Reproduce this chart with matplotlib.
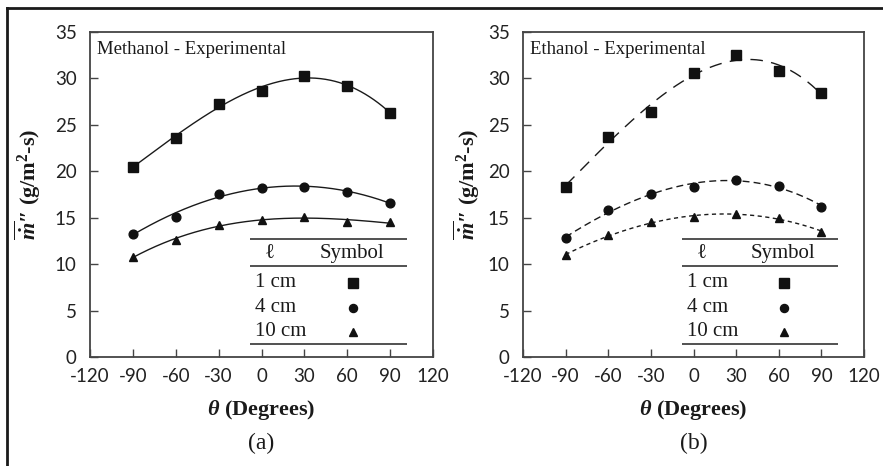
import numpy as np
import matplotlib
matplotlib.use("Agg")
import matplotlib.pyplot as plt
from matplotlib.lines import Line2D

plt.rcParams['mathtext.fontset'] = 'custom'
plt.rcParams['mathtext.rm'] = 'Liberation Serif:bold'
plt.rcParams['mathtext.it'] = 'Liberation Serif:italic'
plt.rcParams['mathtext.bf'] = 'Liberation Serif:bold:italic'
plt.rcParams['mathtext.sf'] = 'Liberation Serif:bold'

theta = [-90, -60, -30, 0, 30, 60, 90]
xticks = [-120, -90, -60, -30, 0, 30, 60, 90, 120]
yticks = [0, 5, 10, 15, 20, 25, 30, 35]

meth_1cm = [20.5, 23.6, 27.3, 28.7, 30.25, 29.2, 26.3]
meth_4cm = [13.3, 15.1, 17.6, 18.2, 18.3, 17.8, 16.6]
meth_10cm = [10.8, 12.55, 14.2, 14.8, 15.1, 14.55, 14.5]

eth_1cm = [18.35, 23.65, 26.35, 30.6, 32.55, 30.85, 28.45]
eth_4cm = [12.8, 15.8, 17.55, 18.35, 19.05, 18.45, 16.2]
eth_10cm = [11.0, 13.1, 14.5, 15.05, 15.35, 15.0, 13.5]

legend_labels = ['1 cm', '4 cm', '10 cm']
panel_titles = ['Methanol - Experimental', 'Ethanol - Experimental']
panel_tags = ['(a)', '(b)']

SERIF = 'Liberation Serif'
SANS = 'Lato'
INK = '#1a1a1a'

fig = plt.figure(figsize=(8.83, 4.66), dpi=100)
fig.patch.set_facecolor('white')

# outer frame (cut off at right and bottom)
fig.add_artist(Line2D([6.5/883, 1.0], [1 - 7.5/466, 1 - 7.5/466], transform=fig.transFigure, color=INK, lw=2.0))
fig.add_artist(Line2D([6.5/883, 6.5/883], [0, 1 - 7.5/466], transform=fig.transFigure, color=INK, lw=2.0))

markers = ['s', 'o', '^']
msizes = [7.0, 6.3, 6.0]

positions = [[90/883, 1 - 357/466, 343/883, 325/466],
             [523/883, 1 - 357/466, 341/883, 325/466]]
ylabel_x = [-0.137, -0.12]

datasets = [[meth_1cm, meth_4cm, meth_10cm], [eth_1cm, eth_4cm, eth_10cm]]
styles = [[(0, ()), (0, ()), (0, ())],
          [(0, (9, 6)), (0, (5, 3)), (0, (3, 2.5))]]
degs = [[3, 3, 3], [3, 3, 3]]

for k in range(2):
    ax = fig.add_axes(positions[k])
    xs = np.linspace(-90, 90, 300)
    for i, ys in enumerate(datasets[k]):
        coef = np.polyfit(theta, ys, degs[k][i])
        ax.plot(xs, np.polyval(coef, xs), color=INK, lw=1.0, linestyle=styles[k][i])
        ax.plot(theta, ys, linestyle='none', marker=markers[i], ms=msizes[i], color='#111111')
    ax.set_xlim(-120, 120)
    ax.set_ylim(0, 35)
    ax.set_xticks(xticks)
    ax.set_yticks(yticks)
    ax.set_xticklabels([str(v) for v in xticks], fontfamily=SANS, fontsize=13.5, color='#222222')
    ax.set_yticklabels([str(v) for v in yticks], fontfamily=SANS, fontsize=13.5, color='#222222')
    ax.tick_params(direction='in', length=6, width=1.0, color='#444444')
    ax.tick_params(axis='y', pad=9.5)
    ax.tick_params(axis='x', pad=8)
    for s in ax.spines.values():
        s.set_color('#444444')
        s.set_linewidth(1.3)
    ax.text(0.02, 0.945, panel_titles[k], transform=ax.transAxes, fontfamily=SERIF,
            fontsize=13.5, va='center', ha='left', color=INK)
    ax.set_xlabel(r'$\mathbf{\theta}$ (Degrees)', fontfamily=SERIF, fontweight='bold',
                  fontsize=16, labelpad=9, color=INK)
    ax.set_ylabel(r"$\overline{\dot{\mathbf{m}}}$″ (g/m$\mathsf{^2}$-s)",
                  fontfamily=SERIF, fontweight='bold', fontsize=16, color=INK)
    ax.yaxis.set_label_coords(ylabel_x[k], 0.53)
    ax.text(0.5, -0.265, panel_tags[k], transform=ax.transAxes, fontfamily=SERIF,
            fontsize=17, ha='center', va='center', color=INK)

    # table-style legend
    for yl in [12.7, 9.8, 1.4]:
        ax.plot([-8, 102], [yl, yl], color='#333333', lw=1.2, solid_capstyle='butt')
    ax.text(6, 11.2, 'ℓ', fontfamily=SERIF, fontsize=15, ha='center', va='center', color=INK)
    ax.text(63, 11.2, 'Symbol', fontfamily=SERIF, fontsize=15, ha='center', va='center', color=INK)
    for i, (lab, yl) in enumerate(zip(legend_labels, [8.0, 5.3, 2.7])):
        ax.text(-4.5, yl, lab, fontfamily=SERIF, fontsize=15, ha='left', va='center', color=INK)
        ax.plot([64], [yl], marker=markers[i], ms=msizes[i] - 0.5, color='#111111', linestyle='none')

fig.savefig('out.png', dpi=100)
